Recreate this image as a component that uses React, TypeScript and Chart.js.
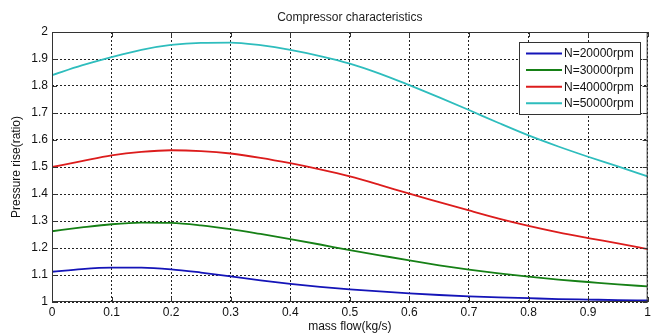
import React, { useEffect, useRef } from "react";
import { Chart, registerables } from "chart.js";

Chart.register(...registerables);

const massFlow = [0, 0.05, 0.1, 0.15, 0.2, 0.25, 0.3, 0.35, 0.4, 0.45, 0.5, 0.55, 0.6, 0.65, 0.7, 0.75, 0.8, 0.85, 0.9, 0.95, 1.0];
const rpm20000 = [1.112, 1.122, 1.127, 1.127, 1.121, 1.109, 1.095, 1.08, 1.067, 1.056, 1.047, 1.039, 1.032, 1.026, 1.021, 1.017, 1.014, 1.011, 1.009, 1.007, 1.006];
const rpm30000 = [1.262, 1.276, 1.288, 1.294, 1.293, 1.284, 1.27, 1.252, 1.233, 1.213, 1.192, 1.173, 1.154, 1.136, 1.12, 1.106, 1.094, 1.083, 1.074, 1.065, 1.058];
const rpm40000 = [1.5, 1.522, 1.543, 1.556, 1.562, 1.559, 1.55, 1.534, 1.514, 1.491, 1.465, 1.434, 1.401, 1.37, 1.339, 1.309, 1.282, 1.258, 1.237, 1.217, 1.196];
const rpm50000 = [1.84, 1.876, 1.907, 1.934, 1.952, 1.96, 1.961, 1.951, 1.934, 1.911, 1.883, 1.846, 1.803, 1.758, 1.711, 1.663, 1.617, 1.576, 1.538, 1.502, 1.465];
const seriesLabels = ["N=20000rpm", "N=30000rpm", "N=40000rpm", "N=50000rpm"];
const seriesColors = ["#1414b8", "#168016", "#dc1c1c", "#2ebdbd"];
const xTicks = [0, 0.1, 0.2, 0.3, 0.4, 0.5, 0.6, 0.7, 0.8, 0.9, 1];
const yTicks = [1, 1.1, 1.2, 1.3, 1.4, 1.5, 1.6, 1.7, 1.8, 1.9, 2];

const FONT = "'Liberation Sans', Arial, sans-serif";

const boxPlugin = {
  id: "matlabBox",
  afterDraw(chart: any) {
    const { ctx, chartArea } = chart;
    const { left, right, top, bottom } = chartArea;
    const xs = chart.scales.x;
    const ys = chart.scales.y;
    ctx.save();
    ctx.fillStyle = "#222";
    ctx.font = `12px ${FONT}`;
    ctx.textAlign = "center";
    ctx.textBaseline = "middle";
    ctx.fillText("Compressor characteristics", (left + right) / 2, 18);

    ctx.strokeStyle = "#333";
    ctx.lineWidth = 1;
    ctx.setLineDash([]);
    ctx.strokeRect(left + 0.5, top + 0.5, right - left - 1, bottom - top - 1);
    ctx.beginPath();
    xTicks.forEach((v) => {
      const px = Math.round(xs.getPixelForValue(v)) + 0.5;
      ctx.moveTo(px, bottom);
      ctx.lineTo(px, bottom - 5);
      ctx.moveTo(px, top);
      ctx.lineTo(px, top + 5);
    });
    yTicks.forEach((v) => {
      const py = Math.round(ys.getPixelForValue(v)) + 0.5;
      ctx.moveTo(left, py);
      ctx.lineTo(left + 5, py);
      ctx.moveTo(right, py);
      ctx.lineTo(right - 5, py);
    });
    ctx.stroke();

    const lx = 519.5, ly = 42.5, lw = 121, lh = 72;
    ctx.fillStyle = "#fff";
    ctx.fillRect(lx, ly, lw, lh);
    ctx.strokeStyle = "#333";
    ctx.strokeRect(lx, ly, lw, lh);
    ctx.textAlign = "left";
    ctx.textBaseline = "middle";
    chart.data.datasets.forEach((ds: any, i: number) => {
      const cy = 53.5 + i * 16.6;
      ctx.strokeStyle = ds.borderColor;
      ctx.lineWidth = 2;
      ctx.beginPath();
      ctx.moveTo(526, cy);
      ctx.lineTo(562, cy);
      ctx.stroke();
      ctx.fillStyle = "#111";
      ctx.fillText(ds.label, 564, cy + 0.5);
    });
    ctx.restore();
  },
};

export default function App() {
  const ref = useRef<HTMLCanvasElement>(null);
  useEffect(() => {
    const canvas = ref.current;
    if (!canvas) return;
    const series = [rpm20000, rpm30000, rpm40000, rpm50000];
    const chart = new Chart(canvas, {
      type: "line",
      data: {
        datasets: series.map((s, i) => ({
          label: seriesLabels[i],
          data: s.map((y, j) => ({ x: massFlow[j], y })),
          borderColor: seriesColors[i],
          backgroundColor: seriesColors[i],
          borderWidth: 1.8,
          pointRadius: 0,
          cubicInterpolationMode: "monotone",
          fill: false,
        })),
      },
      options: {
        responsive: false,
        animation: false,
        devicePixelRatio: 1,
        layout: { padding: { top: 32, right: 2, left: 0, bottom: 0 } },
        plugins: {
          legend: { display: false },
          title: { display: false },
          tooltip: { enabled: false },
        },
        scales: {
          x: {
            type: "linear",
            min: 0,
            max: 1,
            afterFit: (s: any) => {
              s.height = 32;
            },
            afterBuildTicks: (s: any) => {
              s.ticks = xTicks.map((v) => ({ value: v }));
            },
            ticks: {
              padding: 3,
              color: "#111",
              font: { family: FONT, size: 12 },
              maxRotation: 0,
              autoSkip: false,
              callback: (v: any) => String(Math.round(Number(v) * 10) / 10),
            },
            grid: { color: "#222", lineWidth: 1, drawTicks: false },
            border: { display: false, dash: [2, 2] },
            title: {
              display: true,
              text: "mass flow(kg/s)",
              color: "#111",
              font: { family: FONT, size: 12 },
              padding: { top: 0, bottom: 0 },
            },
          },
          y: {
            type: "linear",
            min: 1,
            max: 2,
            afterFit: (s: any) => {
              s.width = 52;
            },
            afterBuildTicks: (s: any) => {
              s.ticks = yTicks.map((v) => ({ value: v }));
            },
            ticks: {
              padding: 4,
              color: "#111",
              font: { family: FONT, size: 12 },
              autoSkip: false,
              callback: (v: any) => String(Math.round(Number(v) * 10) / 10),
            },
            grid: { color: "#222", lineWidth: 1, drawTicks: false },
            border: { display: false, dash: [2, 2] },
            title: {
              display: true,
              text: "Pressure rise(ratio)",
              color: "#111",
              font: { family: FONT, size: 12 },
              padding: { top: 9, bottom: 0 },
            },
          },
        },
      },
      plugins: [boxPlugin],
    });
    return () => chart.destroy();
  }, []);
  return (
    <div style={{ position: "absolute", left: 0, top: 0, width: 654, height: 334, background: "#fff" }}>
      <canvas ref={ref} width={654} height={334} style={{ display: "block" }} />
    </div>
  );
}
